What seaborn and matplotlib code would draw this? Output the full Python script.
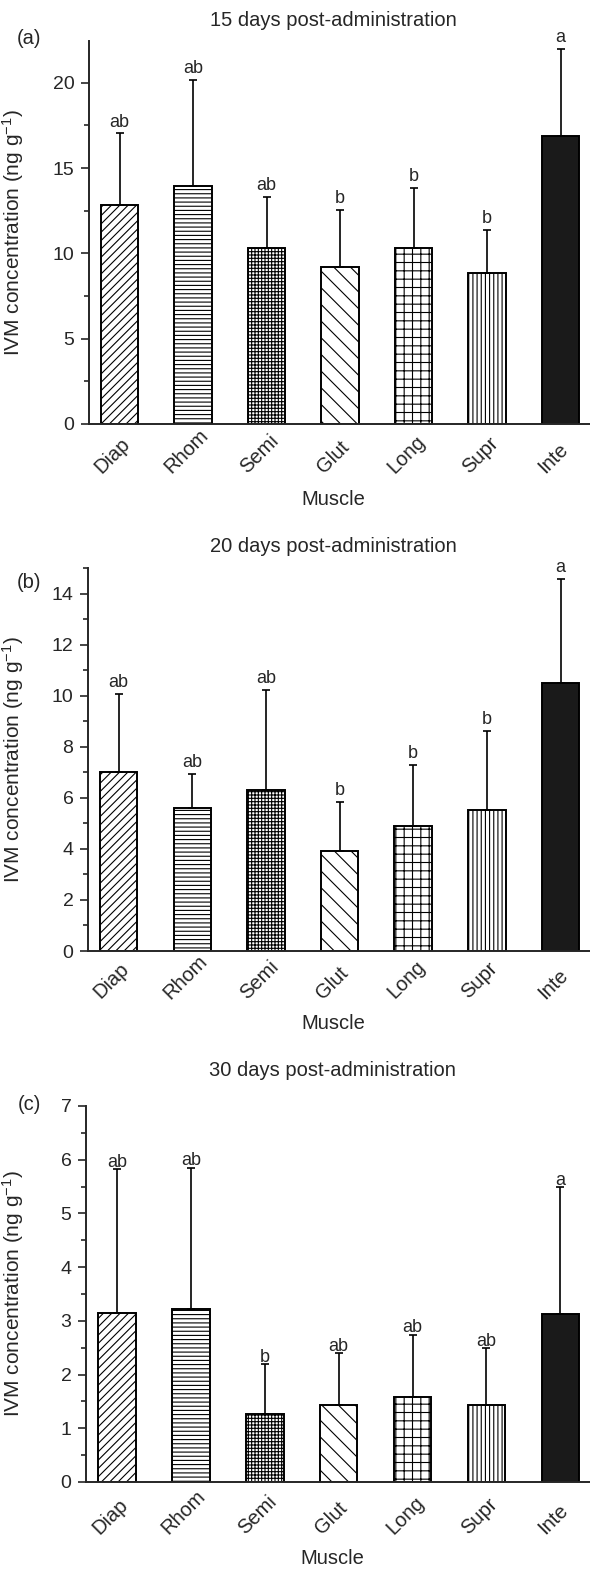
import numpy as np
import matplotlib
matplotlib.use("Agg")
import matplotlib.pyplot as plt
import matplotlib.transforms as mtransforms
from matplotlib.ticker import MultipleLocator
import seaborn as sns

# muscle groups (x axis)
muscles = ['Diap', 'Rhom', 'Semi', 'Glut', 'Long', 'Supr', 'Inte']
hatches = ['////', '----', '+++++', '\\\\', '++', '||||', '']

# 15 days
mean_15 = [12.82, 13.93, 10.32, 9.22, 10.32, 8.83, 16.87]
top_15 = [17.03, 20.16, 13.31, 12.53, 13.82, 11.39, 22.0]
letters_15 = ['ab', 'ab', 'ab', 'b', 'b', 'b', 'a']

# 20 days
mean_20 = [7.0, 5.62, 6.32, 3.91, 4.91, 5.51, 10.50]
top_20 = [10.08, 6.92, 10.24, 5.84, 7.30, 8.61, 14.58]
letters_20 = ['ab', 'ab', 'ab', 'b', 'b', 'b', 'a']

# 30 days
mean_30 = [3.15, 3.23, 1.26, 1.44, 1.58, 1.43, 3.12]
top_30 = [5.82, 5.85, 2.19, 2.40, 2.74, 2.49, 5.49]
letters_30 = ['ab', 'ab', 'b', 'ab', 'ab', 'ab', 'a']

sns.set_style('ticks')
plt.rcParams['font.family'] = ['Liberation Sans', 'DejaVu Sans']
plt.rcParams['mathtext.fontset'] = 'custom'
plt.rcParams['mathtext.rm'] = 'Liberation Sans'
plt.rcParams['mathtext.it'] = 'Liberation Sans:italic'
plt.rcParams['hatch.linewidth'] = 0.8
plt.rcParams['hatch.color'] = 'black'

W, H = 590, 1575
fig = plt.figure(figsize=(W / 100, H / 100), dpi=100)

# panel setup; positions are in pixels of the final image
panels = [
    ('(a)', '15 days post-administration', mean_15, top_15, letters_15, 22.45, 5, 2.5,
     89, 41, 424, 39, 21, 66, 5, 38),
    ('(b)', '20 days post-administration', mean_20, top_20, letters_20, 15, 2, 1,
     88, 568, 951, 582, 21, 63, 5, 37),
    ('(c)', '30 days post-administration', mean_30, top_30, letters_30, 7, 1, 0.5,
     86, 1106, 1482, 1104, 35, 67, 1.8, 40),
]

for (lab, title, means, tops, letters, ymax, major, minor,
     left, top, bottom, lab_y, title_gap, xl_gap, let_gap, xpad) in panels:
    ax = fig.add_axes([left / W, 1 - bottom / H, (W - left) / W, (bottom - top) / H])
    sns.barplot(x=muscles, y=means, ax=ax, color='white', edgecolor='black',
                linewidth=1.4, width=0.51, errorbar=None, saturation=1)
    for p, h in zip(ax.patches, hatches):
        p.set_hatch(h)
    ax.patches[-1].set_facecolor('#1a1a1a')

    means_a = np.array(means)
    tops_a = np.array(tops)
    xs = np.arange(len(muscles))
    ax.errorbar(xs, means_a, yerr=[np.zeros_like(means_a), tops_a - means_a],
                fmt='none', ecolor='black', elinewidth=1.2, capsize=3, capthick=1.2)

    for x, t, s in zip(xs, tops_a, letters):
        ax.annotate(s, (x, t), xytext=(0, let_gap), textcoords='offset points',
                    ha='center', va='baseline', fontsize=13, annotation_clip=False)

    ax.set_xlim(-0.417, 6.40)
    ax.set_ylim(0, ymax)
    ax.yaxis.set_major_locator(MultipleLocator(major))
    ax.yaxis.set_minor_locator(MultipleLocator(minor))
    ax.tick_params(axis='y', which='major', length=5.5, width=1.2, labelsize=14, pad=5)
    ax.tick_params(axis='y', which='minor', length=3.5, width=1.2)
    ax.tick_params(axis='x', length=0, pad=xpad, labelsize=14.5)
    ax.set_xticks(xs)
    ax.set_xticklabels(muscles, rotation=45, ha='center', va='bottom')
    sns.despine(ax=ax)
    for sp in ('left', 'bottom'):
        ax.spines[sp].set_linewidth(1.4)

    ax.set_ylabel('IVM concentration (ng g$^{-1}$)', fontsize=15)
    ax.yaxis.set_label_coords(-(left - 26) / (W - left), 0.5)
    ax.set_xlabel('Muscle', fontsize=14.5, va='top')
    trans = mtransforms.blended_transform_factory(ax.transData, ax.transAxes)
    ax.xaxis.set_label_coords(2.91, -xl_gap / (bottom - top), transform=trans)

    ax.text(2.91, 1 + title_gap / (bottom - top), title, transform=trans,
            ha='center', va='center', fontsize=14.5)
    fig.text(29 / W, 1 - lab_y / H, lab, ha='center', va='center', fontsize=14.5)

    # shift rotated tick labels a little to the left, as in the original
    shift = mtransforms.ScaledTranslation(-7 / 100, 0, fig.dpi_scale_trans)
    for lbl in ax.get_xticklabels():
        lbl.set_transform(lbl.get_transform() + shift)

fig.savefig('out.png', dpi=100, facecolor='white')
